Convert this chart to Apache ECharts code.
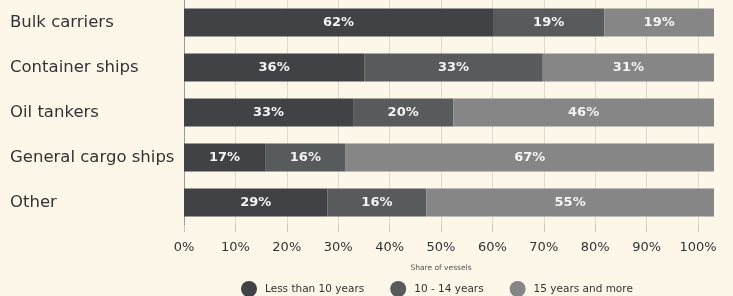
<!DOCTYPE html>
<html>
<head>
<meta charset="utf-8">
<script src="https://cdn.jsdelivr.net/npm/echarts@6/dist/echarts.min.js"></script>
<style>
html,body{margin:0;padding:0;background:#fdf7e9;}
#chart{width:733px;height:296px;}
</style>
</head>
<body>
<div id="chart"></div>
<script>
const categories = ['Bulk carriers', 'Container ships', 'Oil tankers', 'General cargo ships', 'Other'];
const seriesNames = ['Less than 10 years', '10 - 14 years', '15 years and more'];
// printed labels (%)
const under10Labels = [62, 36, 33, 17, 29];
const mid10to14Labels = [19, 33, 20, 16, 16];
const over15Labels = [19, 31, 46, 67, 55];
// bar segment lengths as drawn (share of full bar, %)
const under10Bar = [58.3, 34.0, 31.9, 15.3, 27.1];
const mid10to14Bar = [21.0, 33.7, 18.9, 15.2, 18.6];
const over15Bar = [20.7, 32.3, 49.2, 69.5, 54.3];
const axisTicks = [0, 10, 20, 30, 40, 50, 60, 70, 80, 90, 100];
const axisTitle = 'Share of vessels';

const colors = ['#414245', '#585b5b', '#868686'];
const labelSets = [under10Labels, mid10to14Labels, over15Labels];
const barSets = [under10Bar, mid10to14Bar, over15Bar];
const FONT = '"DejaVu Sans", sans-serif';

const chart = echarts.init(document.getElementById('chart'), null, {renderer: 'canvas'});
chart.setOption({
  backgroundColor: '#fdf7e9',
  animation: false,
  textStyle: {fontFamily: FONT},
  legend: {
    data: seriesNames,
    left: 236, top: 276,
    icon: 'circle', itemWidth: 16, itemHeight: 16, itemGap: 26,
    textStyle: {fontFamily: FONT, fontSize: 10.5, color: '#333', padding: [0, 0, 0, 3]}
  },
  grid: [
    {left: 184, right: 19, top: 0, height: 225},
    {left: 184, right: 35, top: 0, height: 225}
  ],
  xAxis: [
    {gridIndex: 0, type: 'value', min: 0, max: 100, show: false},
    {
      gridIndex: 1, type: 'value', min: axisTicks[0], max: axisTicks[axisTicks.length - 1], interval: 10,
      axisLine: {show: false},
      axisTick: {show: true, length: 7, lineStyle: {color: '#c9c6bd'}},
      splitLine: {show: true, lineStyle: {color: '#dedad0', width: 1}},
      axisLabel: {formatter: v => v + '%', fontFamily: FONT, fontSize: 13, color: '#333', margin: 16},
      name: axisTitle, nameLocation: 'middle', nameGap: 39,
      nameTextStyle: {fontFamily: FONT, fontSize: 7.5, color: '#555'}
    }
  ],
  yAxis: [
    {
      gridIndex: 0, type: 'category', data: categories, inverse: true,
      axisLine: {show: true, lineStyle: {color: '#9a9a9a'}},
      axisTick: {show: false},
      axisLabel: {align: 'left', margin: 174, fontFamily: FONT, fontSize: 16.5, color: '#333'}
    },
    {gridIndex: 1, type: 'category', data: categories, inverse: true, show: false}
  ],
  series: barSets.map((arr, si) => ({
    name: seriesNames[si],
    type: 'bar',
    stack: 'total',
    xAxisIndex: 0, yAxisIndex: 0,
    barWidth: 28,
    data: arr,
    itemStyle: {color: colors[si]},
    label: {
      show: true, position: 'inside',
      formatter: p => labelSets[si][p.dataIndex] + '%',
      fontFamily: FONT, fontSize: 13, fontWeight: 'bold', color: '#f4f4f4'
    }
  }))
});
</script>
</body>
</html>
